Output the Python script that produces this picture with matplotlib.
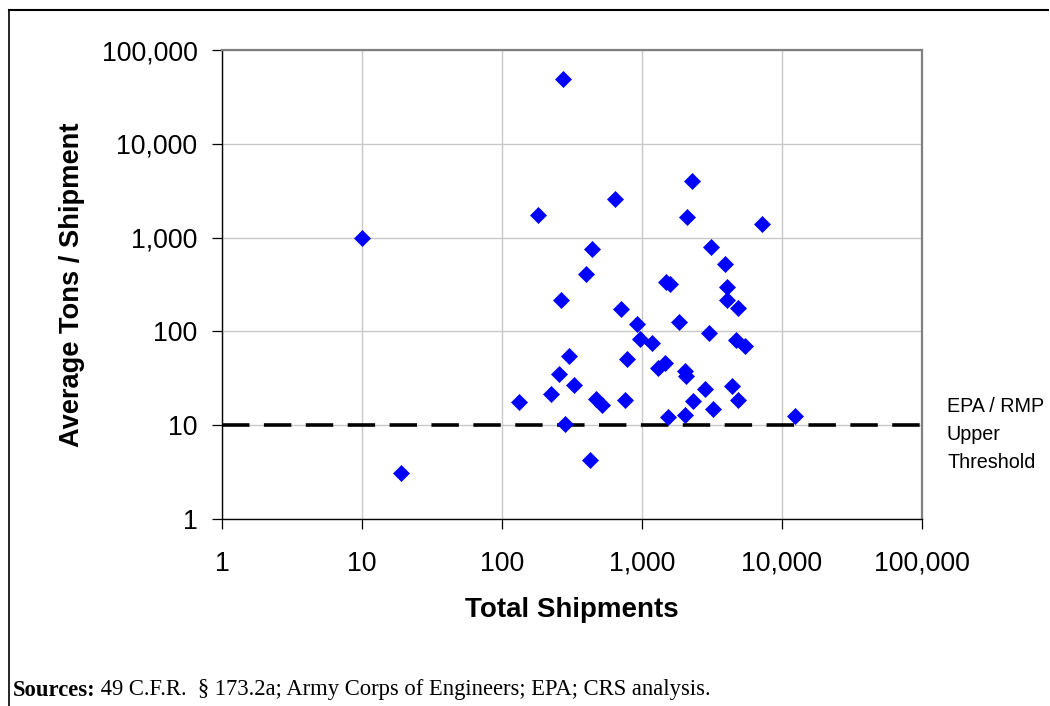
import matplotlib
matplotlib.use("Agg")
import matplotlib.pyplot as plt
from matplotlib.lines import Line2D
from matplotlib.ticker import FixedLocator, NullLocator

# ---- data ----
total_shipments = [10, 19, 133, 180, 224, 255, 263, 272, 281, 300, 329, 397, 424, 441,
                   471, 520, 647, 710, 759, 783, 918, 975, 1188, 1318, 1472, 1496, 1538,
                   1600, 1862, 2046, 2056, 2060, 2120, 2270, 2345, 2843, 3033, 3120, 3228,
                   3910, 4040, 4040, 4430, 4730, 4910, 4910, 5480, 7230, 12400]
avg_tons = [1000, 3.1, 17.8, 1730, 21.4, 35.4, 214, 48500, 10.4, 55, 26.7, 405, 4.3, 755,
            18.8, 16.6, 2560, 172, 18.7, 51.2, 121, 83.6, 75.7, 41, 46.4, 339, 12.2,
            323, 126, 37.7, 13.0, 33.3, 1650, 4050, 17.9, 24.6, 96, 802, 14.8,
            527, 297, 214, 25.9, 80, 179, 18.7, 69.2, 1380, 12.5]
threshold = 10
tick_values = [1, 10, 100, 1000, 10000, 100000]
tick_labels = ["1", "10", "100", "1,000", "10,000", "100,000"]
x_label = "Total Shipments"
y_label = "Average Tons / Shipment"
threshold_label = "EPA / RMP\nUpper\nThreshold"
source_bold = "Sources:"
source_rest = " 49 C.F.R.  § 173.2a; Army Corps of Engineers; EPA; CRS analysis."

plt.rcParams['font.family'] = ['Liberation Sans', 'DejaVu Sans']

W, H = 1050, 706
ax_l, ax_r, ax_t, ax_b = 222, 921.5, 50, 519
fig = plt.figure(figsize=(W / 100, H / 100), dpi=100)
ax = fig.add_axes([ax_l / W, 1 - ax_b / H, (ax_r - ax_l) / W, (ax_b - ax_t) / H])

ax.set_xscale('log')
ax.set_yscale('log')
ax.set_xlim(1, 100000)
ax.set_ylim(1, 100000)

ax.xaxis.set_major_locator(FixedLocator(tick_values))
ax.yaxis.set_major_locator(FixedLocator(tick_values))
ax.xaxis.set_minor_locator(NullLocator())
ax.yaxis.set_minor_locator(NullLocator())
ax.set_xticklabels(tick_labels)
ax.set_yticklabels(tick_labels)

ax.grid(True, which='major', color='#c8c8c8', linewidth=1.0)
ax.set_axisbelow(True)

ax.tick_params(axis='both', which='major', direction='out', length=7.2, width=0.9,
               colors='black', labelsize=19.3)
ax.tick_params(axis='x', pad=15.5)
ax.tick_params(axis='y', pad=10.5)

for s in ['top', 'right']:
    ax.spines[s].set_color('#808080')
    ax.spines[s].set_linewidth(1.6)
for s in ['left', 'bottom']:
    ax.spines[s].set_color('black')
    ax.spines[s].set_linewidth(1.0)

ax.axhline(threshold, color='black', linewidth=2.6, dashes=(7.6, 4.0), zorder=2)

ax.plot(total_shipments, avg_tons, linestyle='none', marker='D', markersize=8.6,
        markerfacecolor='#0000ff', markeredgecolor='#0000ff', markeredgewidth=0.5,
        zorder=3, clip_on=False)

ax.set_xlabel(x_label, fontsize=20, fontweight='bold', va='baseline')
ax.xaxis.set_label_coords(0.5, (ax_b - 617) / (ax_b - ax_t))
ax.set_ylabel(y_label, fontsize=19.6, fontweight='bold', va='center')
ax.yaxis.set_label_coords((72.4 - ax_l) / (ax_r - ax_l), 0.5)

fig.text(947 / W, 1 - 434.5 / H, threshold_label, fontsize=14.2, va='center', ha='left',
         linespacing=1.59)

# frame lines
fig.add_artist(Line2D([9 / W, 1048 / W], [1 - 10 / H, 1 - 10 / H], color='black',
                      linewidth=1.5, transform=fig.transFigure))
fig.add_artist(Line2D([9 / W, 9 / W], [1 - 10 / H, 0], color='black',
                      linewidth=1.2, transform=fig.transFigure))

# sources note
t1 = fig.text(12.5 / W, 1 - 695.5 / H, source_bold, fontsize=16.3, fontweight='bold',
              family=['Liberation Serif', 'DejaVu Serif'], va='baseline', ha='left')
fig.canvas.draw()
bb = t1.get_window_extent(renderer=fig.canvas.get_renderer())
fig.text(bb.x1 / W, 1 - 695.5 / H, source_rest, fontsize=16.3,
         family=['Liberation Serif', 'DejaVu Serif'], va='baseline', ha='left')

fig.savefig('out.png', dpi=100)
